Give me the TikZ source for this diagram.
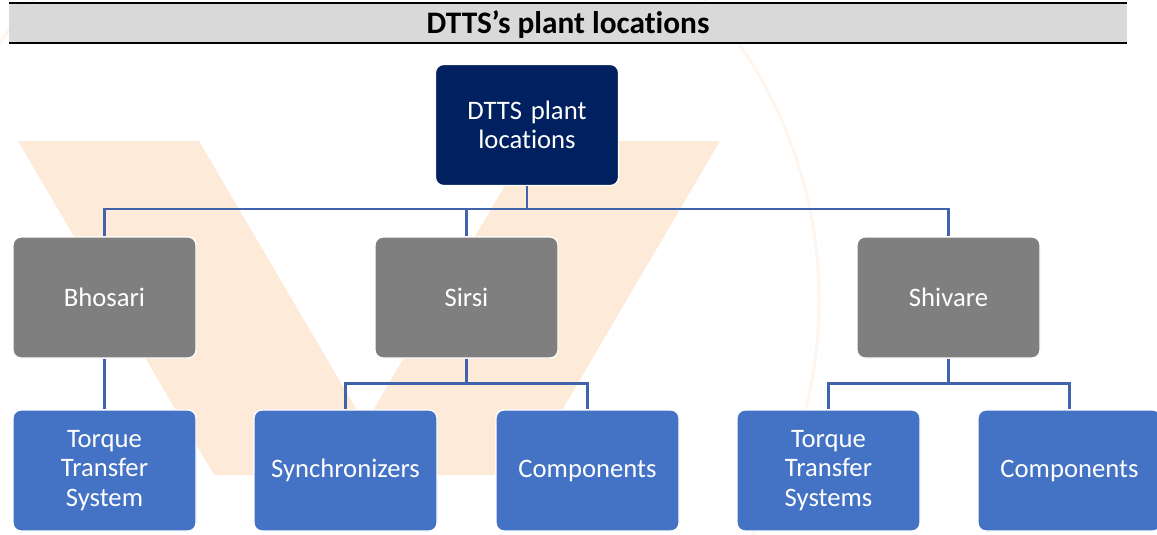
\documentclass[tikz,border=0pt]{standalone}
\usepackage{fontspec}
\setmainfont{Carlito}[Ligatures=NoCommon]
\definecolor{navy}{HTML}{002060}
\definecolor{boxgray}{HTML}{7F7F7F}
\definecolor{boxblue}{HTML}{4472C4}
\definecolor{linkblue}{HTML}{4064AC}
\definecolor{titlegray}{HTML}{D9D9D9}
\definecolor{wmark}{HTML}{FDEAD8}
\definecolor{wring}{HTML}{FDF5EE}
\begin{document}
\begin{tikzpicture}[x=.75pt,y=-.75pt,
	box/.style={rounded corners=6pt,draw=white,line width=1pt,minimum width=137.25pt,minimum height=90.75pt,
		inner sep=0pt,text width=130pt,align=center,text=white,font=\fontsize{20}{22}\selectfont},
	link/.style={linkblue,line width=1.8pt}]
	\useasboundingbox (0,0) rectangle (1157,535);
	% watermark
	\draw[wring,line width=2.2pt] (369,300) circle (337.5pt);
	\fill[wmark] (18,141)--(199,141)--(365,424)--(531,141)--(720,141)--(524,475)--(214,475)--cycle;
	% title bar
	\fill[titlegray] (9,3) rectangle (1127,43);
	\draw[line width=.8pt] (9,3)--(1127,3);
	\draw[line width=2pt] (9,43)--(1127,43);
	\node[font=\bfseries\fontsize{23.5}{26}\selectfont] (title) at (568,25) {DTTS’s plant locations};
	% tree
	\node[box,fill=navy] (root) at (527,125) {DTTS plant\\locations};
	\foreach \n/\x/\t in {bhosari/104.5/Bhosari,sirsi/466.5/Sirsi,shivare/948.5/Shivare}
		\node[box,fill=boxgray] (\n) at (\x,297.5) {\t};
	\node[box,fill=boxblue] (ttsA) at (104.5,470.5) {Torque\\Transfer\\System};
	\node[box,fill=boxblue] (sync) at (345.5,470.5) {Synchronizers};
	\node[box,fill=boxblue] (compA) at (587.5,470.5) {Components};
	\node[box,fill=boxblue] (ttsB) at (828.5,470.5) {Torque\\Transfer\\Systems};
	\node[box,fill=boxblue] (compB) at (1069.5,470.5) {Components};
	\foreach \n in {bhosari,sirsi,shivare} \draw[link] (root.south)--++(0,23)-|(\n.north);
	\draw[link] (bhosari)--(ttsA);
	\foreach \n in {sync,compA} \draw[link] (sirsi.south)--++(0,25)-|(\n.north);
	\foreach \n in {ttsB,compB} \draw[link] (shivare.south)--++(0,25)-|(\n.north);
\end{tikzpicture}
\end{document}
